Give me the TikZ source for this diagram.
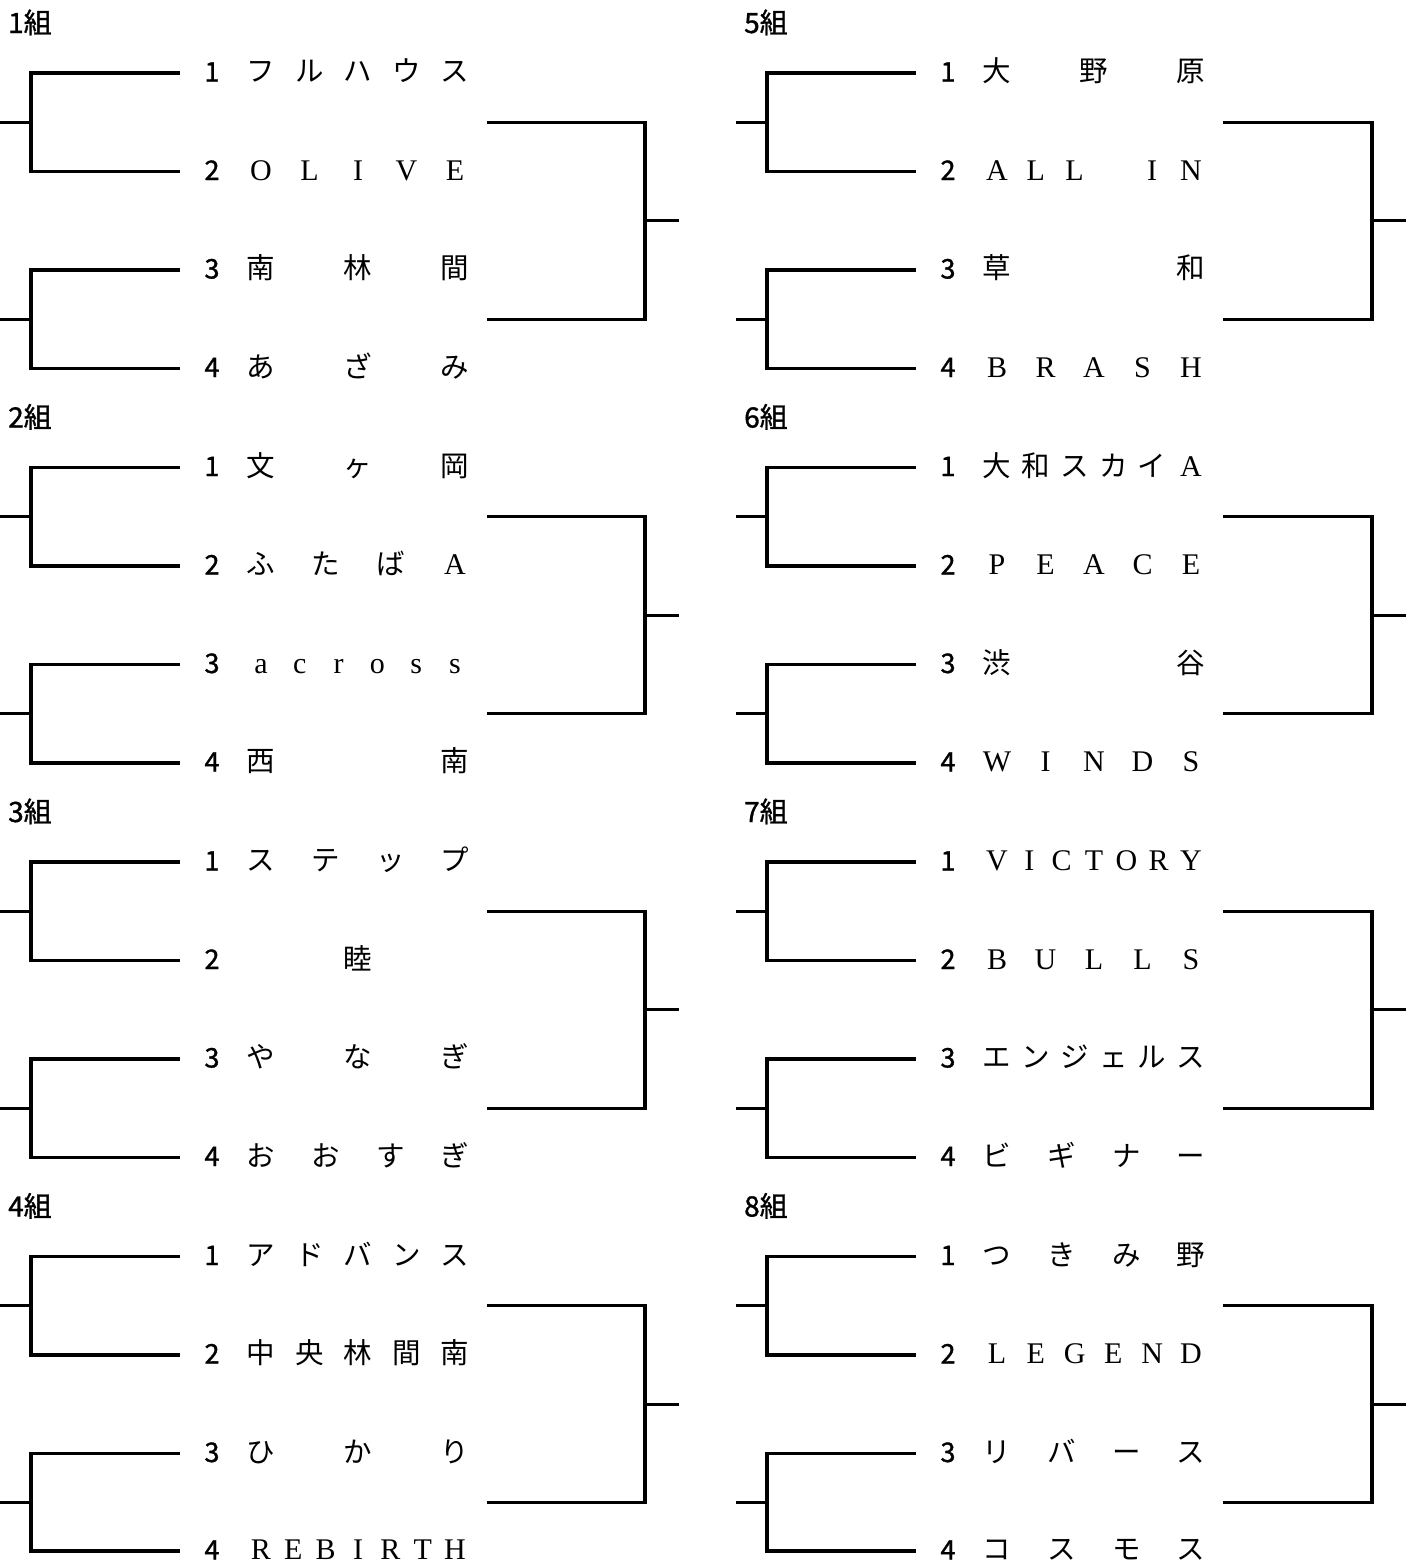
\documentclass[tikz,border=0pt]{standalone}
\usepackage{fontspec}
\setmainfont{Liberation Serif}
\newfontfamily\jpfont{Noto Sans CJK JP}
\newfontfamily\jpnum[FakeBold=1.2]{Noto Sans CJK JP}
\usetikzlibrary{calc}

% latin letter inside a japanese name
\newcommand{\lt}[1]{{\rmfamily\fontsize{30}{30}\selectfont #1}}

% one team row: id, column x, row y, seed, font style, char count, chars
\newcommand{\team}[7]{%
  \coordinate (#1-end) at (#2+180,#3);
  \node[seed, name=#1-no] at (#2+212,#3+8.5) {#4};
  \foreach \ch [count=\k] in {#7} {
    \pgfmathsetmacro{\cx}{#2+261+(#6==1 ? 97 : 194*(\k-1)/max(#6-1,1))}
    \node[#5, name=#1-c\k] at (\cx,#3+8.5) {\ch};
  }
}

% bracket of one group: id, column x, first row y, x of outer vertical
\newcommand{\bracket}[4]{%
  \coordinate (#1-a) at (#2+31,#3+49.25);
  \coordinate (#1-as) at (#2,#3+49.25);
  \coordinate (#1-b) at (#2+31,#3+246.25);
  \coordinate (#1-bs) at (#2,#3+246.25);
  \coordinate (#1-r1) at (#2+487,#3+49.25);
  \coordinate (#1-r2) at (#2+487,#3+246.25);
  \coordinate (#1-f) at (#4,#3+147.75);
  \coordinate (#1-w) at (#4+34,#3+147.75);
  \draw[bline] (#1-1-end) -| (#1-a) |- (#1-2-end);
  \draw[bline] (#1-3-end) -| (#1-b) |- (#1-4-end);
  \draw[bline] (#1-a) -- (#1-as);
  \draw[bline] (#1-b) -- (#1-bs);
  \draw[bline] (#1-r1) -| (#1-f) |- (#1-r2);
  \draw[bline, line width=2.6pt] (#1-f) -- (#1-w);
}

\begin{document}
\begin{tikzpicture}[x=1pt, y=-1pt,
  bline/.style={line width=3.4pt, line join=miter},
  seed/.style={anchor=base, inner sep=0pt, font=\jpnum\fontsize{27}{27}\selectfont},
  jpname/.style={anchor=base, inner sep=0pt, font=\jpfont\fontsize{28.5}{28.5}\selectfont},
  latname/.style={anchor=base, inner sep=0pt, font=\rmfamily\fontsize{30}{30}\selectfont},
  grouplabel/.style={anchor=base west, inner sep=0pt, font=\jpnum\fontsize{28}{28}\selectfont}]
  \useasboundingbox (0,0) rectangle (1418,1564);

  % left column
  \node[grouplabel, name=g1-lbl] at (8,33) {1組};
  \team{g1-1}{0}{73}{1}{jpname}{5}{フ,ル,ハ,ウ,ス}
  \team{g1-2}{0}{171.5}{2}{latname}{5}{O,L,I,V,E}
  \team{g1-3}{0}{270}{3}{jpname}{3}{南,林,間}
  \team{g1-4}{0}{368.5}{4}{jpname}{3}{あ,ざ,み}
  \bracket{g1}{0}{73}{645}

  \node[grouplabel, name=g2-lbl] at (8,427.5) {2組};
  \team{g2-1}{0}{467.5}{1}{jpname}{3}{文,ヶ,岡}
  \team{g2-2}{0}{566}{2}{jpname}{4}{ふ,た,ば,\lt{A}}
  \team{g2-3}{0}{664.5}{3}{latname}{6}{a,c,r,o,s,s}
  \team{g2-4}{0}{763}{4}{jpname}{2}{西,南}
  \bracket{g2}{0}{467.5}{645}

  \node[grouplabel, name=g3-lbl] at (8,822) {3組};
  \team{g3-1}{0}{862}{1}{jpname}{4}{ス,テ,ッ,プ}
  \team{g3-2}{0}{960.5}{2}{jpname}{1}{睦}
  \team{g3-3}{0}{1059}{3}{jpname}{3}{や,な,ぎ}
  \team{g3-4}{0}{1157.5}{4}{jpname}{4}{お,お,す,ぎ}
  \bracket{g3}{0}{862}{645}

  \node[grouplabel, name=g4-lbl] at (8,1216.5) {4組};
  \team{g4-1}{0}{1256.5}{1}{jpname}{5}{ア,ド,バ,ン,ス}
  \team{g4-2}{0}{1355}{2}{jpname}{5}{中,央,林,間,南}
  \team{g4-3}{0}{1453.5}{3}{jpname}{3}{ひ,か,り}
  \team{g4-4}{0}{1551}{4}{latname}{7}{R,E,B,I,R,T,H}
  \bracket{g4}{0}{1256.5}{645}

  % right column
  \node[grouplabel, name=g5-lbl] at (744,33) {5組};
  \team{g5-1}{736}{73}{1}{jpname}{3}{大,野,原}
  \team{g5-2}{736}{171.5}{2}{latname}{6}{A,L,L,{},I,N}
  \team{g5-3}{736}{270}{3}{jpname}{2}{草,和}
  \team{g5-4}{736}{368.5}{4}{latname}{5}{B,R,A,S,H}
  \bracket{g5}{736}{73}{1372}

  \node[grouplabel, name=g6-lbl] at (744,427.5) {6組};
  \team{g6-1}{736}{467.5}{1}{jpname}{6}{大,和,ス,カ,イ,\lt{A}}
  \team{g6-2}{736}{566}{2}{latname}{5}{P,E,A,C,E}
  \team{g6-3}{736}{664.5}{3}{jpname}{2}{渋,谷}
  \team{g6-4}{736}{763}{4}{latname}{5}{W,I,N,D,S}
  \bracket{g6}{736}{467.5}{1372}

  \node[grouplabel, name=g7-lbl] at (744,822) {7組};
  \team{g7-1}{736}{862}{1}{latname}{7}{V,I,C,T,O,R,Y}
  \team{g7-2}{736}{960.5}{2}{latname}{5}{B,U,L,L,S}
  \team{g7-3}{736}{1059}{3}{jpname}{6}{エ,ン,ジ,ェ,ル,ス}
  \team{g7-4}{736}{1157.5}{4}{jpname}{4}{ビ,ギ,ナ,ー}
  \bracket{g7}{736}{862}{1372}

  \node[grouplabel, name=g8-lbl] at (744,1216.5) {8組};
  \team{g8-1}{736}{1256.5}{1}{jpname}{4}{つ,き,み,野}
  \team{g8-2}{736}{1355}{2}{latname}{6}{L,E,G,E,N,D}
  \team{g8-3}{736}{1453.5}{3}{jpname}{4}{リ,バ,ー,ス}
  \team{g8-4}{736}{1551}{4}{jpname}{4}{コ,ス,モ,ス}
  \bracket{g8}{736}{1256.5}{1372}
\end{tikzpicture}
\end{document}
